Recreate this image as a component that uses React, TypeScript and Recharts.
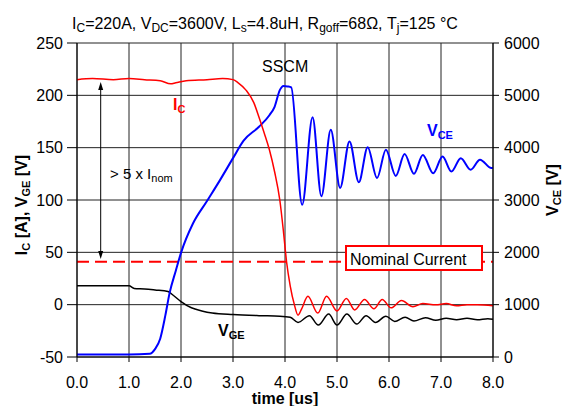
import React from 'react';
import { ComposedChart, Line, XAxis, YAxis, CartesianGrid, ReferenceLine } from 'recharts';

// time axis [us]
const xTicks = [0, 1, 2, 3, 4, 5, 6, 7, 8];
const leftTicks = [-50, 0, 50, 100, 150, 200, 250];
const rightTicks = [0, 1000, 2000, 3000, 4000, 5000, 6000];
const nominalCurrent = 41;

// collector current I_C [A]
const icTime = [0, 0.3, 0.7, 1.0, 1.3, 1.6, 1.8, 1.9, 2.1, 2.5, 2.8, 3.0, 3.1, 3.25, 3.4, 3.5, 3.6, 3.7, 3.8, 3.9, 3.97, 4.03, 4.1, 4.18, 4.25, 4.32, 4.44, 4.63, 4.8, 5.0, 5.18, 5.34, 5.53, 5.71, 5.87, 6.04, 6.24, 6.46, 6.65, 6.9, 7.1, 7.3, 7.5, 7.7, 8.0];
const icValue = [215, 216, 215, 216, 215, 214, 211, 212, 214, 215, 216, 215, 212, 205, 193, 179, 164, 148, 127, 100, 70, 41, 18, 0, -10, -4, 8, -8, 8, -6, 6, -5, 5, -4, 5, -3, 4, -2, 1, 0, 1, -1, 0, 0, -1];

// collector-emitter voltage V_CE [V]
const vceTime = [0, 0.5, 1.0, 1.4, 1.5, 1.6, 1.7, 1.78, 1.9, 2.0, 2.23, 2.5, 2.75, 3.0, 3.2, 3.5, 3.7, 3.8, 3.9, 3.97, 4.05, 4.12, 4.33, 4.53, 4.7, 4.88, 5.06, 5.24, 5.42, 5.59, 5.77, 5.94, 6.13, 6.3, 6.48, 6.65, 6.85, 7.03, 7.2, 7.38, 7.57, 7.75, 7.97, 8.0];
const vceValue = [50, 50, 50, 60, 150, 350, 800, 1220, 1650, 1990, 2550, 2980, 3380, 3800, 4130, 4400, 4620, 4780, 5100, 5180, 5170, 5150, 2910, 4580, 3070, 4340, 3230, 4120, 3340, 4010, 3420, 3960, 3460, 3880, 3500, 3860, 3510, 3830, 3545, 3800, 3580, 3770, 3610, 3620];

// gate-emitter voltage V_GE [V]
const vgeTime = [0, 1.0, 1.1, 1.3, 1.5, 1.75, 1.85, 2.0, 2.2, 2.4, 2.6, 3.0, 3.5, 3.9, 4.1, 4.25, 4.47, 4.64, 4.84, 5.0, 5.19, 5.38, 5.56, 5.74, 5.94, 6.11, 6.31, 6.48, 6.7, 6.9, 7.1, 7.3, 7.5, 7.7, 7.9, 8.0];
const vgeValue = [18, 18, 15.5, 15, 14, 12.5, 9, 3, -3, -6, -8, -9.5, -10.5, -11, -12, -17, -10.5, -19.5, -9, -19.5, -9, -18.5, -10.5, -17, -11, -16, -12, -15.5, -12.5, -15, -13, -14.5, -13, -14.5, -13.5, -14];

const zip = (t: number[], v: number[]) => t.map((x, i) => ({ t: x, v: v[i] }));
const icData = zip(icTime, icValue);
const vceData = zip(vceTime, vceValue);
const vgeData = zip(vgeTime, vgeValue);

const FONT = 'Liberation Sans, Arial, sans-serif';
const W = 565;
const H = 406;

export default function App() {
  const tickStyle = { fill: '#000', fontSize: 16, fontFamily: FONT };

  return (
    <div style={{ position: 'absolute', left: 0, top: 0, width: W, height: H, background: '#fff' }}>
      <ComposedChart width={W} height={H} margin={{ top: 43, right: 0, left: 0, bottom: 0 }}>
        <CartesianGrid yAxisId="left" stroke="#222" strokeWidth={1} />
        <XAxis
          dataKey="t"
          type="number"
          domain={[0, 8]}
          ticks={xTicks}
          allowDataOverflow
          height={49}
          tickFormatter={(v: number) => v.toFixed(1)}
          tick={tickStyle}
          tickSize={5}
          tickMargin={15}
          stroke="#000"
        />
        <YAxis
          yAxisId="left"
          domain={[-50, 250]}
          ticks={leftTicks}
          allowDataOverflow
          width={77}
          tick={tickStyle}
          tickSize={10}
          tickMargin={4}
          stroke="#000"
        />
        <YAxis
          yAxisId="right"
          orientation="right"
          domain={[0, 6000]}
          ticks={rightTicks}
          allowDataOverflow
          width={72}
          tick={tickStyle}
          tickSize={6}
          tickMargin={5}
          stroke="#000"
        />
        <ReferenceLine yAxisId="left" y={nominalCurrent} stroke="#ff0000" strokeWidth={2} strokeDasharray="12 6" />
        <Line yAxisId="left" data={vgeData} dataKey="v" type="monotone" stroke="#000" strokeWidth={1.5} dot={false} isAnimationActive={false} />
        <Line yAxisId="right" data={vceData} dataKey="v" type="monotone" stroke="#0000ff" strokeWidth={2} dot={false} isAnimationActive={false} />
        <Line yAxisId="left" data={icData} dataKey="v" type="monotone" stroke="#ff0000" strokeWidth={1.5} dot={false} isAnimationActive={false} />
      </ComposedChart>

      {/* annotations */}
      <svg width={W} height={H} style={{ position: 'absolute', left: 0, top: 0, pointerEvents: 'none' }} fontFamily={FONT}>
        <text x={72} y={29} fontSize={16} fill="#000">
          I<tspan fontSize={12} dy={3}>C</tspan>
          <tspan dy={-3}>=220A, V</tspan><tspan fontSize={12} dy={3}>DC</tspan>
          <tspan dy={-3}>=3600V, L</tspan><tspan fontSize={12} dy={3}>s</tspan>
          <tspan dy={-3}>=4.8uH, R</tspan><tspan fontSize={12} dy={3}>goff</tspan>
          <tspan dy={-3}>=68Ω, T</tspan><tspan fontSize={12} dy={3}>j</tspan>
          <tspan dy={-3}>=125 °C</tspan>
        </text>

        <text x={27} y={205} fontSize={16} fontWeight="bold" textAnchor="middle" transform="rotate(-90 27 205)">
          I<tspan fontSize={11} dy={3}>C</tspan><tspan dy={-3}> [A], V</tspan><tspan fontSize={11} dy={3}>GE</tspan><tspan dy={-3}> [V]</tspan>
        </text>
        <text x={558} y={190} fontSize={16} fontWeight="bold" textAnchor="middle" transform="rotate(-90 558 190)">
          V<tspan fontSize={11} dy={3}>CE</tspan><tspan dy={-3}> [V]</tspan>
        </text>
        <text x={285} y={404} fontSize={16} fontWeight="bold" textAnchor="middle">time [us]</text>

        <text x={262} y={72} fontSize={16} fill="#000">SSCM</text>
        <text x={173} y={110} fontSize={16} fontWeight="bold" fill="#ff0000">
          I<tspan fontSize={11} dy={3}>C</tspan>
        </text>
        <text x={427} y={136} fontSize={16} fontWeight="bold" fill="#0000ff">
          V<tspan fontSize={11} dy={3}>CE</tspan>
        </text>
        <text x={218} y={336} fontSize={16} fontWeight="bold" fill="#000">
          V<tspan fontSize={11} dy={3}>GE</tspan>
        </text>

        <line x1={100.7} y1={88} x2={100.7} y2={253} stroke="#000" strokeWidth={1} />
        <polygon points="100.7,82 98.2,90 103.2,90" fill="#000" />
        <polygon points="100.7,259 98.2,251 103.2,251" fill="#000" />
        <text x={110} y={179} fontSize={15} fill="#000">
          {'> 5 x I'}<tspan fontSize={11} dy={3}>nom</tspan>
        </text>

        <rect x={346} y={246} width={136} height={24} fill="#fff" stroke="#ff0000" strokeWidth={2} />
        <text x={350} y={265} fontSize={16} fill="#000">Nominal Current</text>
      </svg>
    </div>
  );
}
